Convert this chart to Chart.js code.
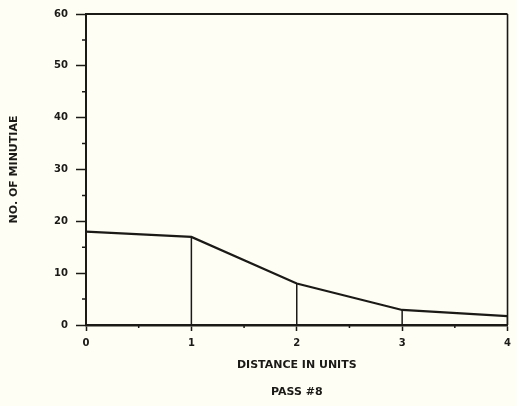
<!DOCTYPE html>
<html>
<head>
<meta charset="utf-8">
<script src="https://cdn.jsdelivr.net/npm/chart.js@4"></script>
<style>
  html, body { margin: 0; padding: 0; background: #fefef4; }
  #wrap { width: 517px; height: 406px; }
</style>
</head>
<body>
<div id="wrap"><canvas id="minutiaeChart"></canvas></div>
<script>
// minutiae count against distance, pass 8
const distances = [0, 1, 2, 3, 4];
const minutiae = [18, 17, 8, 2.9, 1.7];
const yTitle = 'NO. OF MINUTIAE';
const xTitle = 'DISTANCE IN UNITS';
const passLabel = 'PASS #8';

const ink = '#1c1a17';
const font = { family: 'DejaVu Sans', weight: 'bold' };

// main curve
const curve = {
  data: distances.map((d, i) => ({ x: d, y: minutiae[i] })),
  borderColor: ink,
  borderWidth: 2.2,
  pointRadius: 0,
  tension: 0
};

// vertical drop lines from each point to the axis
const drops = distances.map((d, i) => ({
  data: [{ x: d, y: 0 }, { x: d, y: minutiae[i] }],
  borderColor: ink,
  borderWidth: 1.5,
  pointRadius: 0
}));

// half-step ticks and the top/right frame
const frameAndMinor = {
  id: 'frameAndMinor',
  afterDraw(chart) {
    const { ctx, chartArea: a, scales: { x, y } } = chart;
    ctx.save();
    ctx.strokeStyle = ink;
    ctx.lineWidth = 1.5;
    ctx.beginPath();
    for (let v = 5; v < 60; v += 10) {
      const py = y.getPixelForValue(v);
      ctx.moveTo(a.left - 4, py);
      ctx.lineTo(a.left + 1, py);
    }
    for (let v = 0.5; v < 4; v += 1) {
      const px = x.getPixelForValue(v);
      ctx.moveTo(px, a.bottom);
      ctx.lineTo(px, a.bottom + 3);
    }
    ctx.stroke();

    ctx.lineWidth = 2;
    ctx.beginPath();
    ctx.moveTo(a.left, a.top);
    ctx.lineTo(a.right, a.top);
    ctx.stroke();
    ctx.lineWidth = 1.6;
    ctx.beginPath();
    ctx.moveTo(a.right, a.top);
    ctx.lineTo(a.right, a.bottom);
    ctx.stroke();
    ctx.restore();
  }
};

new Chart(document.getElementById('minutiaeChart'), {
  type: 'line',
  data: { datasets: [curve, ...drops] },
  plugins: [frameAndMinor],
  options: {
    animation: false,
    responsive: true,
    maintainAspectRatio: false,
    layout: { padding: { top: 11, right: 7, left: 0, bottom: 0 } },
    plugins: { legend: { display: false }, tooltip: { enabled: false } },
    scales: {
      x: {
        type: 'linear',
        min: 0,
        max: 4,
        afterFit(scale) { scale.height = 81; },
        ticks: { stepSize: 1, color: ink, padding: 6, font: { ...font, size: 10 } },
        grid: { drawOnChartArea: false, tickLength: 6, tickColor: ink, tickWidth: 1.5 },
        border: { color: ink, width: 2.5 },
        title: {
          display: true,
          text: [xTitle, passLabel],
          color: ink,
          font: { ...font, size: 11, lineHeight: '27px' },
          padding: { top: 0, bottom: 0 }
        }
      },
      y: {
        min: 0,
        max: 60,
        afterFit(scale) { scale.width = 86; },
        ticks: { stepSize: 10, color: ink, padding: 8, font: { ...font, size: 10 } },
        grid: { drawOnChartArea: false, tickLength: 10, tickColor: ink, tickWidth: 1.5 },
        border: { color: ink, width: 2 },
        title: {
          display: true,
          text: yTitle,
          color: ink,
          font: { ...font, size: 11 },
          padding: { top: 8, bottom: 0 }
        }
      }
    }
  }
});
</script>
</body>
</html>
